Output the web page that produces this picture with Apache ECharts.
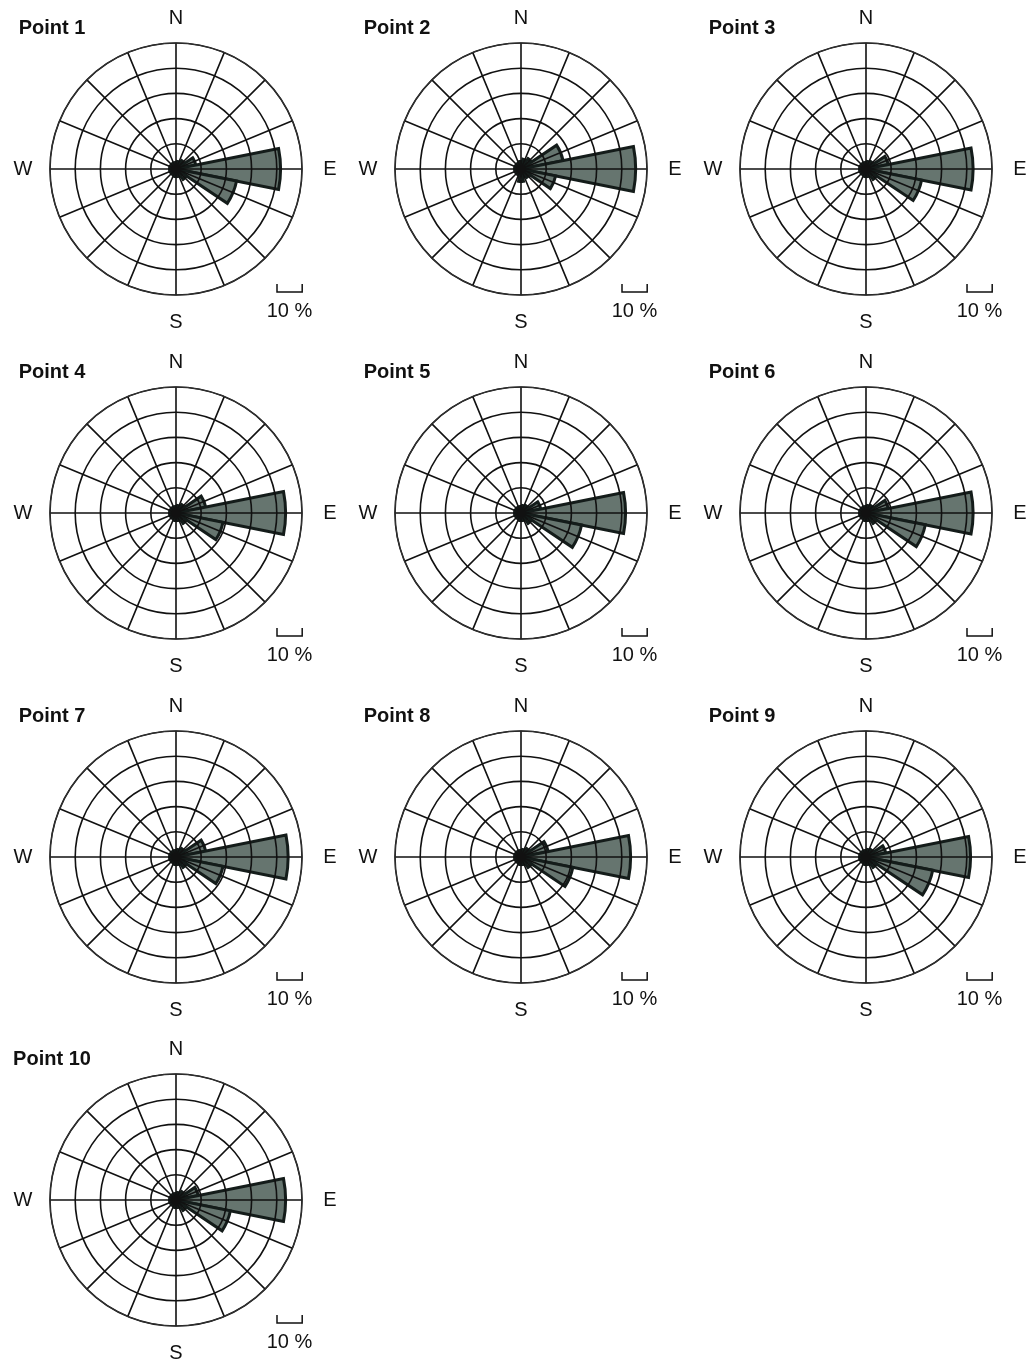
<!DOCTYPE html>
<html>
<head>
<meta charset="utf-8">
<script src="https://cdn.jsdelivr.net/npm/echarts@6/dist/echarts.min.js"></script>
<style>
html,body{margin:0;padding:0;background:#fff;}
#chart{width:1029px;height:1365px;}
</style>
</head>
<body>
<div id="chart"></div>
<script>
const directions = ['N','NNE','NE','ENE','E','ESE','SE','SSE','S','SSW','SW','WSW','W','WNW','NW','NNW'];
const pointNames = ['Point 1','Point 2','Point 3','Point 4','Point 5','Point 6','Point 7','Point 8','Point 9','Point 10'];
const point1  = [2.5,3,4,8,41.5,24.5,5,3,3,2.5,2.5,2.5,2.5,2.5,2.5,2.5];
const point2  = [3,4,5,17,45.5,14,4,3,5,2.5,2.5,2.5,2.5,2.5,2.5,2.5];
const point3  = [2.5,3,3.5,9,42.5,22.5,5,3,3,2.5,2.5,2.5,2.5,2.5,2.5,2.5];
const point4  = [2.5,3,4,12,43.5,19,5,3,3,2.5,2.5,2.5,2.5,2.5,2.5,2.5];
const point5  = [2.5,3,3.5,8,41.5,24.5,5,3,3,2.5,2.5,2.5,2.5,2.5,2.5,2.5];
const point6  = [2.5,3,3.5,9,42.5,24,5,3,3,2.5,2.5,2.5,2.5,2.5,2.5,2.5];
const point7  = [2.5,3,4,12,44.5,19,5,3,3,2.5,2.5,2.5,2.5,2.5,2.5,2.5];
const point8  = [2.5,3,4,11,43.5,21,5,3,3,2.5,2.5,2.5,2.5,2.5,2.5,2.5];
const point9  = [2.5,3,3.5,8,41.5,27,5,3,3,2.5,2.5,2.5,2.5,2.5,2.5,2.5];
const point10 = [2.5,3,4,9,43.5,22,5,3,3,2.5,2.5,2.5,2.5,2.5,2.5,2.5];
const pointValues = [point1,point2,point3,point4,point5,point6,point7,point8,point9,point10];
const radiusMax = 50;
const radiusStep = 10;
const scaleLabel = '10 %';

const chart = echarts.init(document.getElementById('chart'));
const colX = [176, 521, 866];
const rowY = [169, 513, 857, 1200];
const R = 126;
const font = '"Liberation Sans", Arial, Helvetica, sans-serif';

const polar = [], angleAxis = [], radiusAxis = [], series = [], graphic = [];

pointValues.forEach((vals, i) => {
  const cx = colX[i % 3], cy = rowY[Math.floor(i / 3)];
  const gi = polar.length;
  // grid polar
  polar.push({ center: [cx, cy], radius: R });
  angleAxis.push({
    polarIndex: gi, type: 'value', min: 0, max: 360, interval: 22.5, startAngle: 90,
    z: 5,
    axisLine: { show: true, lineStyle: { color: '#333', width: 1.1 } },
    axisTick: { show: false }, axisLabel: { show: false },
    splitLine: { show: true, lineStyle: { color: '#111', width: 1.6 } }
  });
  radiusAxis.push({
    polarIndex: gi, type: 'value', min: 0, max: radiusMax, interval: radiusStep,
    z: 5,
    axisLine: { show: false }, axisTick: { show: false }, axisLabel: { show: false },
    splitLine: { show: true, lineStyle: { color: '#111', width: 1.6 } }
  });
  // bar polar
  const bi = polar.length;
  polar.push({ center: [cx, cy], radius: R });
  angleAxis.push({
    polarIndex: bi, type: 'category', data: directions, startAngle: 90 + 180 / directions.length,
    boundaryGap: true,
    axisLine: { show: false }, axisTick: { show: false }, axisLabel: { show: false },
    splitLine: { show: false }
  });
  radiusAxis.push({
    polarIndex: bi, type: 'value', min: 0, max: radiusMax,
    axisLine: { show: false }, axisTick: { show: false }, axisLabel: { show: false },
    splitLine: { show: false }
  });
  series.push({
    type: 'bar', coordinateSystem: 'polar', polarIndex: bi,
    name: pointNames[i], data: vals, barCategoryGap: '0%', z: 2,
    itemStyle: { color: '#66756f', borderColor: '#141c1a', borderWidth: 3 },
    silent: true
  });

  const tStyle = (txt, x, y, size, weight) => ({
    type: 'text', x: x, y: y, silent: true,
    style: { text: txt, fill: '#111', font: weight + ' ' + size + 'px ' + font, align: 'center', verticalAlign: 'middle' }
  });
  graphic.push(tStyle(pointNames[i], cx - 124, cy - 141, 20, 'bold'));
  graphic.push(tStyle('N', cx, cy - 150.5, 20, 'normal'));
  graphic.push(tStyle('S', cx, cy + 153, 20, 'normal'));
  graphic.push(tStyle('W', cx - 153, cy, 20, 'normal'));
  graphic.push(tStyle('E', cx + 154, cy, 20, 'normal'));
  graphic.push(tStyle(scaleLabel, cx + 113.5, cy + 142, 20, 'normal'));
  const w = R * radiusStep / radiusMax;
  const x0 = cx + 101, y0 = cy + 115, y1 = cy + 123;
  graphic.push({
    type: 'polyline', silent: true,
    shape: { points: [[x0, y0], [x0, y1], [x0 + w, y1], [x0 + w, y0]] },
    style: { stroke: '#111', lineWidth: 1.5, fill: null }
  });
});

chart.setOption({
  animation: false,
  backgroundColor: '#fff',
  polar, angleAxis, radiusAxis, series, graphic
});
</script>
</body>
</html>
